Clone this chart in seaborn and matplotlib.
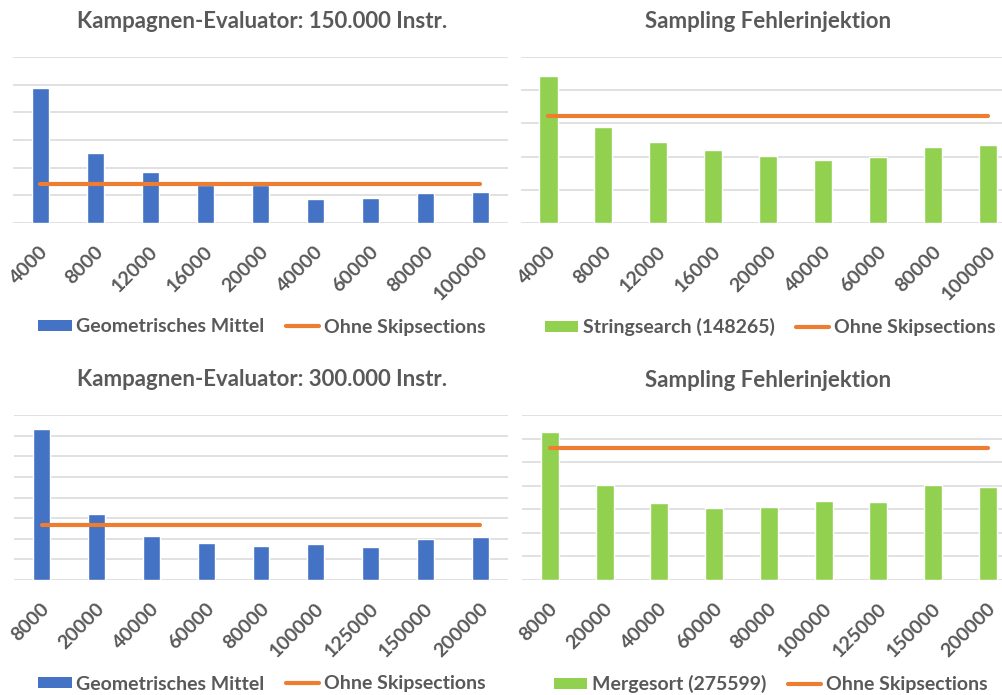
import numpy as np
import pandas as pd
import matplotlib
matplotlib.use("Agg")
import matplotlib.pyplot as plt
import matplotlib.transforms as mtransforms
import seaborn as sns
from matplotlib.patches import Patch
from matplotlib.lines import Line2D

sns.set_theme(style="white")
plt.rcParams["font.family"] = ["Lato", "DejaVu Sans"]

# Kampagnen-Evaluator, 150.000 Instr. (skip section sizes)
sizes_150k = ["4000", "8000", "12000", "16000", "20000", "40000", "60000", "80000", "100000"]
geo_mean_150k = [4.87, 2.52, 1.85, 1.37, 1.37, 0.85, 0.91, 1.07, 1.10]
no_skip_150k = 1.41

# Sampling Fehlerinjektion, Stringsearch
stringsearch = [4.43, 2.88, 2.43, 2.20, 2.03, 1.89, 1.99, 2.29, 2.35]
no_skip_stringsearch = 3.23

# Kampagnen-Evaluator, 300.000 Instr.
sizes_300k = ["8000", "20000", "40000", "60000", "80000", "100000", "125000", "150000", "200000"]
geo_mean_300k = [7.34, 3.21, 2.12, 1.80, 1.65, 1.73, 1.62, 2.01, 2.09]
no_skip_300k = 2.66

# Sampling Fehlerinjektion, Mergesort
mergesort = [6.28, 4.04, 3.27, 3.06, 3.09, 3.37, 3.31, 4.04, 3.95]
no_skip_mergesort = 5.61

BLUE = "#4472C4"
GREEN = "#92D050"
ORANGE = "#ED7D31"
GRID = "#D9D9D9"
TEXT = "#595959"

W, H = 1002, 695
fig = plt.figure(figsize=(W / 100, H / 100), dpi=100)


def px_axes(left, right, top, bottom):
    return fig.add_axes([left / W, 1 - bottom / H, (right - left) / W, (bottom - top) / H])


def panel(ax, cats, values, base, color, ymax, width):
    df = pd.DataFrame({"size": cats, "value": values})
    sns.barplot(data=df, x="size", y="value", color=color, width=width,
                saturation=1, ax=ax, zorder=3)
    pos = np.arange(len(cats))
    sns.lineplot(x=pos, y=[base] * len(cats), color=ORANGE, linewidth=3.0,
                 ax=ax, zorder=4, solid_capstyle="round")
    ax.set_xlim(-0.5, len(cats) - 0.5)
    ax.set_ylim(0, ymax)
    ax.set_yticks(np.arange(0, ymax + 1))
    ax.set_yticklabels([])
    ax.grid(axis="y", color=GRID, linewidth=1.1, zorder=0)
    ax.set_axisbelow(True)
    for s in ax.spines.values():
        s.set_visible(False)
    ax.tick_params(axis="y", length=0)
    ax.tick_params(axis="x", length=0, pad=19)
    ax.set_xlabel("")
    ax.set_ylabel("")
    ax.set_facecolor("none")
    shift = mtransforms.ScaledTranslation(5 / 100, 0, fig.dpi_scale_trans)
    for lab in ax.get_xticklabels():
        lab.set_rotation(45)
        lab.set_ha("right")
        lab.set_va("center")
        lab.set_rotation_mode("anchor")
        lab.set_fontsize(14)
        lab.set_fontweight("bold")
        lab.set_color(TEXT)
        lab.set_transform(lab.get_transform() + shift)


def legend(bar_label, color, cx, cy):
    handles = [Patch(facecolor=color, edgecolor="none"),
               Line2D([0], [0], color=ORANGE, linewidth=3.0)]
    fig.legend(handles, [bar_label, "Ohne Skipsections"], loc="center",
               bbox_to_anchor=(cx / W, 1 - cy / H), ncol=2, frameon=False,
               prop={"size": 14, "weight": "bold"}, labelcolor=TEXT,
               handlelength=1.7, handleheight=0.5, handletextpad=0.25,
               columnspacing=1.1, borderpad=0)


ax1 = px_axes(12.8, 507.7, 57.3, 222.7)
panel(ax1, sizes_150k, geo_mean_150k, no_skip_150k, BLUE, 6, 0.31)
ax2 = px_axes(521.0, 1015.5, 57.3, 222.7)
panel(ax2, sizes_150k, stringsearch, no_skip_stringsearch, GREEN, 5, 0.33)
ax3 = px_axes(14.4, 507.6, 415.3, 580.0)
panel(ax3, sizes_300k, geo_mean_300k, no_skip_300k, BLUE, 8, 0.31)
ax4 = px_axes(522.4, 1015.4, 415.3, 580.0)
panel(ax4, sizes_300k, mergesort, no_skip_mergesort, GREEN, 7, 0.33)

title_kw = dict(ha="center", va="center", fontsize=16, fontweight="bold", color=TEXT)
fig.text(262 / W, 1 - 21 / H, "Kampagnen-Evaluator: 150.000 Instr.", **title_kw)
fig.text(768 / W, 1 - 21 / H, "Sampling Fehlerinjektion", **title_kw)
fig.text(262 / W, 1 - 379 / H, "Kampagnen-Evaluator: 300.000 Instr.", **title_kw)
fig.text(768 / W, 1 - 381 / H, "Sampling Fehlerinjektion", **title_kw)

legend("Geometrisches Mittel", BLUE, 262, 327)
legend("Stringsearch (148265)", GREEN, 770, 327)
legend("Geometrisches Mittel", BLUE, 262, 684)
legend("Mergesort (275599)", GREEN, 771, 684)

fig.savefig("out.png", dpi=100)
